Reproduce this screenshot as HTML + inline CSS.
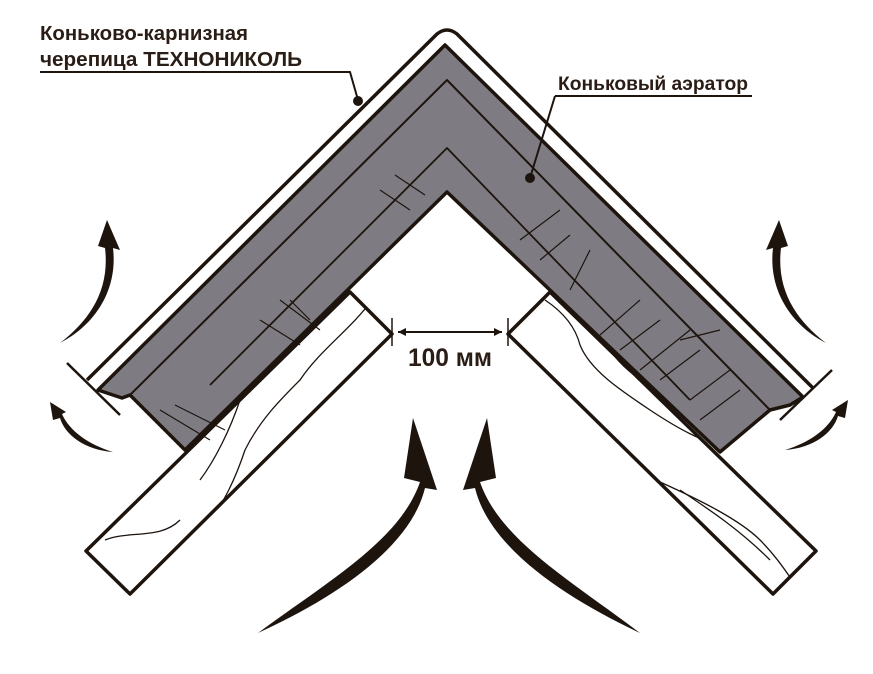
<!DOCTYPE html>
<html><head><meta charset="utf-8"><style>
html,body{margin:0;padding:0;background:#fff;width:873px;height:674px;overflow:hidden}
svg{display:block}
text{font-family:"Liberation Sans",sans-serif;font-weight:bold;fill:#2a1d15}
</style></head><body>
<svg width="873" height="674" viewBox="0 0 873 674" xmlns="http://www.w3.org/2000/svg">
<defs>
<clipPath id="lb"><polygon points="350,292 392,334 130,594 86,551"/></clipPath>
<clipPath id="rb"><polygon points="550,292 508,334 773,594 816,551"/></clipPath>
</defs>
<g stroke="#1e140e" stroke-linejoin="round" fill="none">
<!-- boards -->
<polygon points="350,292 392,334 130,594 86,551" fill="#fff" stroke-width="3.5"/>
<polygon points="550,292 508,334 773,594 816,551" fill="#fff" stroke-width="3.5"/>
<g stroke-width="1.3" clip-path="url(#lb)">
<path d="M372,300 C350,330 320,350 300,380 C280,400 260,420 245,450 C235,480 225,500 205,530"/>
<path d="M240,400 C230,430 215,460 200,480"/>
<path d="M105,540 C130,530 160,540 180,520"/>
</g>
<g stroke-width="1.3" clip-path="url(#rb)">
<path d="M545,300 C560,310 575,325 580,345 C590,370 620,390 650,410 C680,430 700,440 730,450"/>
<path d="M600,330 C610,360 640,385 680,400 C700,410 710,420 720,440"/>
<path d="M660,482 C700,500 740,520 760,540 C775,555 785,570 792,580"/>
<path d="M680,490 C710,510 740,530 770,560"/>
</g>
<!-- aerator -->
<polygon points="98,390 445,45 803,397 790,405 770,410 720,452 447,192 185,450 130,395 122,398" fill="#7e7c82" stroke-width="3.5"/>
<polyline points="130,395 447,80 770,410" stroke-width="2"/>
<polyline points="210,385 447,148 690,400" stroke-width="1.8"/>
<g stroke-width="1.2">
<path d="M160,410 L210,440 M175,405 L225,430 M260,320 L300,345 M280,300 L320,330 M380,190 L410,210 M395,175 L425,195 M290,300 L310,320"/>
<path d="M600,335 L640,300 M620,350 L660,320 M640,370 L690,330 M660,380 L700,350 M690,400 L730,370 M700,420 L740,390 M680,340 L720,330 M520,240 L560,210 M540,260 L570,235 M570,290 L590,250"/>
</g>
<!-- outer tile line -->
<path d="M87,380 L437,34 Q447,26 457,34 L813,388" stroke-width="3.5"/>
<!-- ticks -->
<line x1="67" y1="363" x2="120" y2="415" stroke-width="2.5"/>
<line x1="780" y1="420" x2="832" y2="370" stroke-width="2.5"/>
<!-- dimension -->
<line x1="392" y1="318" x2="392" y2="346" stroke-width="1.5"/>
<line x1="508" y1="318" x2="508" y2="346" stroke-width="1.5"/>
<line x1="398" y1="332" x2="502" y2="332" stroke-width="2"/>
<!-- leaders -->
<polyline points="40,72 350,72 358,100" stroke-width="2"/>
<polyline points="555,96 752,96" stroke-width="2"/>
<line x1="555" y1="96" x2="530" y2="178" stroke-width="2"/>
</g>
<polygon points="398,332 406,328 406,336" fill="#1e140e"/>
<polygon points="502,332 494,328 494,336" fill="#1e140e"/>
<circle cx="358" cy="101" r="5" fill="#1e140e"/>
<circle cx="530" cy="178" r="5" fill="#1e140e"/>
<!-- arrows -->
<g fill="#1e140e">
<path d="M258,633 C330,580 400,540 420,482 L404,478 L413,418 L437,490 L425,488 C410,550 330,600 258,633 Z"/>
<path d="M640,633 C570,580 500,540 480,482 L496,478 L487,418 L463,490 L475,488 C490,550 570,600 640,633 Z"/>
<path d="M60,343 C90,320 110,290 105,248 L98,246 L107,220 L120,250 L113,248 C118,290 95,325 60,343 Z"/>
<path d="M826,343 C796,320 776,290 781,248 L788,246 L779,220 L766,250 L773,248 C768,290 791,325 826,343 Z"/>
<path d="M113,452 C85,450 65,435 60,418 L53,420 L50,402 L66,412 L62,414 C70,432 90,445 113,452 Z"/>
<path d="M785,450 C813,448 833,433 838,416 L845,418 L848,400 L832,410 L836,412 C828,430 808,443 785,450 Z"/>
</g>
<text x="40" y="40" font-size="20" textLength="208" lengthAdjust="spacingAndGlyphs">Коньково-карнизная</text>
<text x="40" y="66" font-size="20" textLength="262" lengthAdjust="spacingAndGlyphs">черепица ТЕХНОНИКОЛЬ</text>
<text x="558" y="90" font-size="19" textLength="190" lengthAdjust="spacingAndGlyphs">Коньковый аэратор</text>
<text x="408" y="366" font-size="25" textLength="84" lengthAdjust="spacingAndGlyphs">100 мм</text>
</svg>
</body></html>
